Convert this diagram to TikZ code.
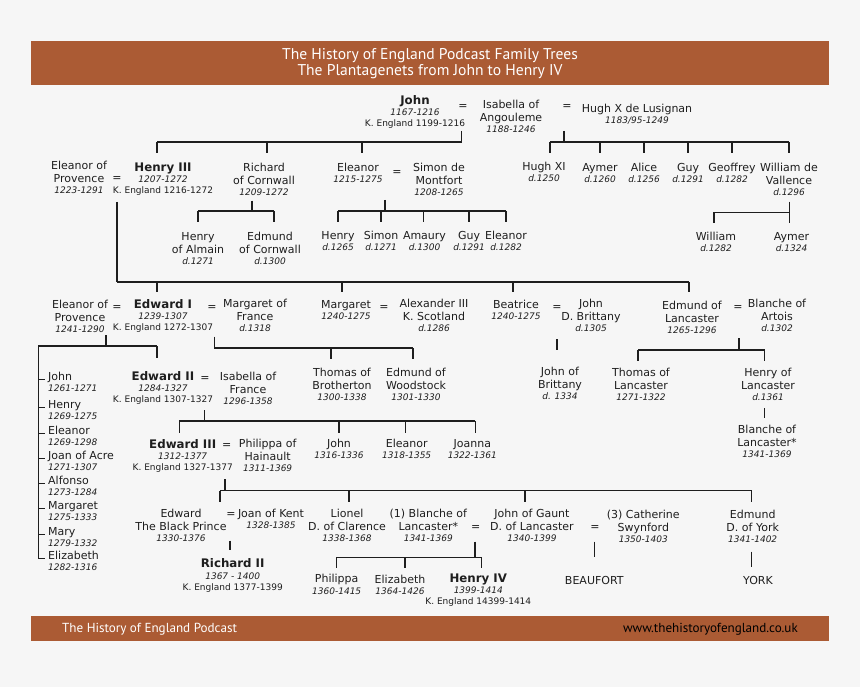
\documentclass[tikz,border=0pt]{standalone}
\usepackage{fontspec}
\setmainfont{DejaVu Sans}
\newfontfamily\bannerfont{PT Sans}
\usetikzlibrary{positioning}
\definecolor{banner}{RGB}{171,91,52}
\definecolor{paper}{RGB}{246,246,246}
\definecolor{ink}{RGB}{30,30,30}
\newcommand{\yr}[1]{{\normalfont\itshape\fontsize{9}{11}\selectfont #1}}
\newcommand{\kg}[1]{{\normalfont\fontsize{9}{11}\selectfont #1}}
\tikzset{
	who/.style={anchor=north,yshift=8.2pt,align=center,inner sep=0pt,text=ink,font=\fontsize{11}{13}\selectfont},
	king/.style={who,yshift=0.5pt,font=\fontsize{11.8}{13}\selectfont\bfseries},
	kid/.style={who,anchor=north west,align=left},
	wed/.style={anchor=base,inner sep=0pt,text=ink,font=\fontsize{11}{13}\selectfont},
	tree/.style={draw=ink,line width=1.2pt},
}

\begin{document}
\begin{tikzpicture}[x=1pt,y=-1pt]
			\fill[paper] (0,0) rectangle (860,687);
			\fill[banner] (31,41) rectangle (829,85);
			\fill[banner] (31,616) rectangle (829,641);
			\node[align=center,text=white,font=\bannerfont\fontsize{15.6}{16.7}\selectfont] (title) at (430,63.5) {The History of England Podcast Family Trees\\The Plantagenets from John to Henry IV};
			\node[anchor=west,inner sep=0pt,text=white,font=\bannerfont\fontsize{13.1}{14}\selectfont] (footL) at (62,629) {The History of England Podcast};
			\node[anchor=east,inner sep=0pt,text=black,font=\bannerfont\fontsize{13.1}{14}\selectfont] (footR) at (798,629) {www.thehistoryofengland.co.uk};

			% John and his wives' children
			\node[king] (john) at (415,104) {John\\[-1.5pt]\yr{1167-1216}\\[-2pt]\kg{K. England 1199-1216}};
			\node[wed] (eqJI) at (463,110) {=};
			\node[who] (isabella) at (511,108) {Isabella of\\Angouleme\\[-1.5pt]\yr{1188-1246}};
			\node[wed] (eqIH) at (567,110) {=};
			\node[who] (hughX) at (637,112) {Hugh X de Lusignan\\[-1.5pt]\yr{1183/95-1249}};

			\node[who] (eleanorP1) at (79,169) {Eleanor of\\Provence\\[-1.5pt]\yr{1223-1291}};
			\node[wed] (eqH3) at (117,182) {=};
			\node[king] (henry3) at (163,171) {Henry III\\[-1.5pt]\yr{1207-1272}\\[-2pt]\kg{K. England 1216-1272}};
			\node[who] (richardC) at (264,171) {Richard\\of Cornwall\\[-1.5pt]\yr{1209-1272}};
			\node[who] (eleanorJ) at (358,171) {Eleanor\\[-1.5pt]\yr{1215-1275}};
			\node[wed] (eqEM) at (397,176) {=};
			\node[who] (montfort) at (439,171) {Simon de\\Montfort\\[-1.5pt]\yr{1208-1265}};
			\node[who] (hugh11) at (544,170) {Hugh XI\\[-1.5pt]\yr{d.1250}};
			\node[who] (aymer1) at (600,171) {Aymer\\[-1.5pt]\yr{d.1260}};
			\node[who] (alice) at (644,171) {Alice\\[-1.5pt]\yr{d.1256}};
			\node[who] (guy1) at (688,171) {Guy\\[-1.5pt]\yr{d.1291}};
			\node[who] (geoffrey) at (732,171) {Geoffrey\\[-1.5pt]\yr{d.1282}};
			\node[who] (williamV) at (789,171) {William de\\Vallence\\[-1.5pt]\yr{d.1296}};

			\node[who] (henryA) at (198,240) {Henry\\of Almain\\[-1.5pt]\yr{d.1271}};
			\node[who] (edmundC) at (270,240) {Edmund\\of Cornwall\\[-1.5pt]\yr{d.1300}};
			\node[who] (henryM) at (338,239) {Henry\\[-1.5pt]\yr{d.1265}};
			\node[who] (simonM) at (381,239) {Simon\\[-1.5pt]\yr{d.1271}};
			\node[who] (amaury) at (424.5,239) {Amaury\\[-1.5pt]\yr{d.1300}};
			\node[who] (guyM) at (469,239) {Guy\\[-1.5pt]\yr{d.1291}};
			\node[who] (eleanorM) at (506,239) {Eleanor\\[-1.5pt]\yr{d.1282}};
			\node[who] (williamW) at (716,240) {William\\[-1.5pt]\yr{d.1282}};
			\node[who] (aymerW) at (791.5,240) {Aymer\\[-1.5pt]\yr{d.1324}};

			% Henry III's children
			\node[who] (eleanorP2) at (80,308) {Eleanor of\\Provence\\[-1.5pt]\yr{1241-1290}};
			\node[wed] (eqE1a) at (117,310) {=};
			\node[king] (edward1) at (163,308) {Edward I\\[-1.5pt]\yr{1239-1307}\\[-2pt]\kg{K. England 1272-1307}};
			\node[wed] (eqE1b) at (212,310) {=};
			\node[who] (margaretF) at (255,307) {Margaret of\\France\\[-1.5pt]\yr{d.1318}};
			\node[who] (margaretS) at (346,308) {Margaret\\[-1.5pt]\yr{1240-1275}};
			\node[wed] (eqMS) at (384,310) {=};
			\node[who] (alexander) at (434,307) {Alexander III\\K. Scotland\\[-1.5pt]\yr{d.1286}};
			\node[who] (beatrice) at (516,308) {Beatrice\\[-1.5pt]\yr{1240-1275}};
			\node[wed] (eqBJ) at (557,310) {=};
			\node[who] (johnDB) at (591,307) {John\\D. Brittany\\[-1.5pt]\yr{d.1305}};
			\node[who] (edmundL) at (692,309) {Edmund of\\Lancaster\\[-1.5pt]\yr{1265-1296}};
			\node[wed] (eqEB) at (738,310) {=};
			\node[who] (blancheA) at (777,307) {Blanche of\\Artois\\[-1.5pt]\yr{d.1302}};

			\node[kid] (johnE1) at (48,380) {John\\[-1.5pt]\yr{1261-1271}};
			\node[kid] (henryE1) at (48,408) {Henry\\[-1.5pt]\yr{1269-1275}};
			\node[kid] (eleanorE1) at (48,434) {Eleanor\\[-1.5pt]\yr{1269-1298}};
			\node[kid] (joanA) at (48,459) {Joan of Acre\\[-1.5pt]\yr{1271-1307}};
			\node[kid] (alfonso) at (48,484) {Alfonso\\[-1.5pt]\yr{1273-1284}};
			\node[kid] (margaretE1) at (48,509) {Margaret\\[-1.5pt]\yr{1275-1333}};
			\node[kid] (mary) at (48,535) {Mary\\[-1.5pt]\yr{1279-1332}};
			\node[kid] (elizabethE1) at (48,559) {Elizabeth\\[-1.5pt]\yr{1282-1316}};

			\node[king] (edward2) at (163,380) {Edward II\\[-1.5pt]\yr{1284-1327}\\[-2pt]\kg{K. England 1307-1327}};
			\node[wed] (eqE2) at (205,381) {=};
			\node[who] (isabellaF) at (248,380) {Isabella of\\France\\[-1.5pt]\yr{1296-1358}};
			\node[who] (thomasB) at (342,376) {Thomas of\\Brotherton\\[-1.5pt]\yr{1300-1338}};
			\node[who] (edmundW) at (416,376) {Edmund of\\Woodstock\\[-1.5pt]\yr{1301-1330}};
			\node[who] (johnBr) at (560,375) {John of\\Brittany\\[-1.5pt]\yr{d. 1334}};
			\node[who] (thomasL) at (641,376) {Thomas of\\Lancaster\\[-1.5pt]\yr{1271-1322}};
			\node[who] (henryL) at (768,376) {Henry of\\Lancaster\\[-1.5pt]\yr{d.1361}};
			\node[who] (blancheL) at (767,433) {Blanche of\\Lancaster*\\[-1.5pt]\yr{1341-1369}};

			% Edward III and after
			\node[king] (edward3) at (182.7,448) {Edward III\\[-1.5pt]\yr{1312-1377}\\[-2pt]\kg{K. England 1327-1377}};
			\node[wed] (eqE3) at (226.7,448) {=};
			\node[who] (philippaH) at (267.7,447) {Philippa of\\Hainault\\[-1.5pt]\yr{1311-1369}};
			\node[who] (johnE2) at (339,447) {John\\[-1.5pt]\yr{1316-1336}};
			\node[who] (eleanorE2) at (406.7,447) {Eleanor\\[-1.5pt]\yr{1318-1355}};
			\node[who] (joanna) at (472.3,447) {Joanna\\[-1.5pt]\yr{1322-1361}};

			\node[who] (edwardBP) at (181,517) {Edward\\The Black Prince\\[-1.5pt]\yr{1330-1376}};
			\node[wed] (eqBP) at (231,517) {=};
			\node[who] (joanK) at (271,517) {Joan of Kent\\[-1.5pt]\yr{1328-1385}};
			\node[who] (lionel) at (347,517) {Lionel\\D. of Clarence\\[-1.5pt]\yr{1338-1368}};
			\node[who] (blancheL2) at (428.3,517) {(1) Blanche of\\Lancaster*\\[-1.5pt]\yr{1341-1369}};
			\node[wed] (eqBG) at (475.7,530.7) {=};
			\node[who] (gaunt) at (532,517) {John of Gaunt\\D. of Lancaster\\[-1.5pt]\yr{1340-1399}};
			\node[wed] (eqGS) at (595,530) {=};
			\node[who] (catherine) at (643.3,518) {(3) Catherine\\Swynford\\[-1.5pt]\yr{1350-1403}};
			\node[who] (edmundY) at (752.7,518) {Edmund\\D. of York\\[-1.5pt]\yr{1341-1402}};

			\node[king] (richard2) at (232.7,567.3) {Richard II\\[-1.5pt]\yr{1367 - 1400}\\[-2pt]\kg{K. England 1377-1399}};
			\node[who] (philippaG) at (336.7,582.3) {Philippa\\[-1.5pt]\yr{1360-1415}};
			\node[who] (elizabethG) at (400,583) {Elizabeth\\[-1.5pt]\yr{1364-1426}};
			\node[king] (henry4) at (478.3,582.3) {Henry IV\\[-1.5pt]\yr{1399-1414}\\[-2pt]\kg{K. England 14399-1414}};
			\node[who] (beaufort) at (594.3,584) {BEAUFORT};
			\node[who] (york) at (758,584) {YORK};

			% family lines
			\coordinate (f1) at (461.7,131);
			\coordinate (f2) at (564,131);
			\coordinate (f3) at (117,202);
			\coordinate (f4) at (252,200.7);
			\coordinate (f5) at (385,200);
			\coordinate (f6) at (789.3,201.7);
			\coordinate (f7) at (106,335);
			\coordinate (f8) at (214.3,336.7);
			\coordinate (f10) at (739,338.3);
			\coordinate (f12) at (204.3,410);
			\coordinate (f13) at (225,479.3);
			\coordinate (f15) at (475,541.7);
			\coordinate (lst) at (38.3,346);

			\begin{scope}[tree]
			\draw (f1) -- ++(0,11) coordinate (f1b);
			\draw ([xshift=-6pt]henry3 |- f1b) -- (f1b);
			\foreach \c/\dx in {henry3/-6,richardC/3,eleanorJ/4}
			\draw ([xshift=\dx pt]\c |- f1b) -- ++(0,11);

			\draw (f2) -- ++(0,11) coordinate (f2b);
			\draw ([xshift=6pt]hugh11 |- f2b) -- (williamV |- f2b);
			\foreach \c/\dx in {hugh11/6,aymer1/0,alice/0,guy1/0,geoffrey/0,williamV/0}
			\draw ([xshift=\dx pt]\c |- f2b) -- ++(0,11);

			\draw (f3) -- ++(0,80) coordinate (f3b);
			\draw (f3b) -- ([xshift=-3pt]edmundL |- f3b);
			\foreach \c/\dx in {edward1/-6,margaretS/-4,beatrice/-3,edmundL/-3}
			\draw ([xshift=\dx pt]\c |- f3b) -- ++(0,10);

			\draw (f4) -- ++(0,10.3) coordinate (f4b);
			\draw (henryA |- f4b) -- ([xshift=4pt]edmundC |- f4b);
			\foreach \c/\dx in {henryA/0,edmundC/4}
			\draw ([xshift=\dx pt]\c |- f4b) -- ++(0,11);

			\draw (f5) -- ++(0,11) coordinate (f5b);
			\draw (henryM |- f5b) -- (eleanorM |- f5b);
			\foreach \c/\dx in {henryM/0,simonM/0,amaury/-1,guyM/0,eleanorM/0}
			\draw ([xshift=\dx pt]\c |- f5b) -- ++(0,11);

			\draw (f6) -- ++(0,10.6) coordinate (f6b);
			\draw ([xshift=-2pt]williamW |- f6b) -- (f6b);
			\foreach \c/\dx in {williamW/-2,aymerW/-2}
			\draw ([xshift=\dx pt]\c |- f6b) -- ++(0,10.4);

			\draw (f7) -- ++(0,11) coordinate (f7b);
			\draw ([xshift=-6pt]edward2 |- f7b) -- ++(0,11.7);
			\draw ([xshift=-6pt]edward2 |- f7b) -- (lst) -- ([yshift=-8pt]lst |- elizabethE1.north);
			\foreach \k in {johnE1,henryE1,eleanorE1,joanA,alfonso,margaretE1,mary,elizabethE1}
			\draw (lst |- \k.north) ++(0,8) -- ++(6.7,0);

			\draw (f8) -- ++(0,11.3) coordinate (f8b);
			\draw (f8b) -- ([xshift=-3pt]edmundW |- f8b);
			\foreach \c/\dx in {thomasB/-11,edmundW/-3}
			\draw ([xshift=\dx pt]\c |- f8b) -- ++(0,11.3);

			\draw (eqBJ |- 0,339.3) -- ++(0,10.7);

			\draw (f10) -- ++(0,11.7) coordinate (f10b);
			\draw ([xshift=-3pt]thomasL |- f10b) -- ([xshift=-3.5pt]henryL |- f10b);
			\foreach \c/\dx in {thomasL/-3,henryL/-3.5}
			\draw ([xshift=\dx pt]\c |- f10b) -- ++(0,10.7);

			\draw ([xshift=-3.5pt]henryL |- 0,408.3) -- ++(0,10);

			\draw (f12) -- ++(0,11) coordinate (f12b);
			\draw ([xshift=-3.4pt]edward3 |- f12b) -- ([xshift=3pt]joanna |- f12b);
			\foreach \c/\dx in {edward3/-3.4,johnE2/0,eleanorE2/-1,joanna/3}
			\draw ([xshift=\dx pt]\c |- f12b) -- ++(0,11.7);

			\draw (f13) -- ++(0,11.4) coordinate (f13b);
			\draw ([xshift=39pt]edwardBP |- f13b) -- ([xshift=-1pt]edmundY |- f13b);
			\foreach \c/\dx in {edwardBP/39,lionel/2,gaunt/-7,edmundY/-1}
			\draw ([xshift=\dx pt]\c |- f13b) -- ++(0,11);

			\draw ([xshift=-1pt]eqBP |- 0,540.7) -- ++(0,9.3);

			\draw (f15) -- ++(0,15.6) coordinate (f15b);
			\draw (philippaG |- f15b) -- ([xshift=3pt]henry4 |- f15b);
			\foreach \c/\dx in {philippaG/0,elizabethG/5,henry4/3}
			\draw ([xshift=\dx pt]\c |- f15b) -- ++(0,11);

			\draw (beaufort |- 0,541.7) -- ++(0,15.6);
			\draw ([xshift=-1pt]edmundY |- 0,551.7) -- ++(0,15.6);
			\end{scope}
\end{tikzpicture}
\end{document}
